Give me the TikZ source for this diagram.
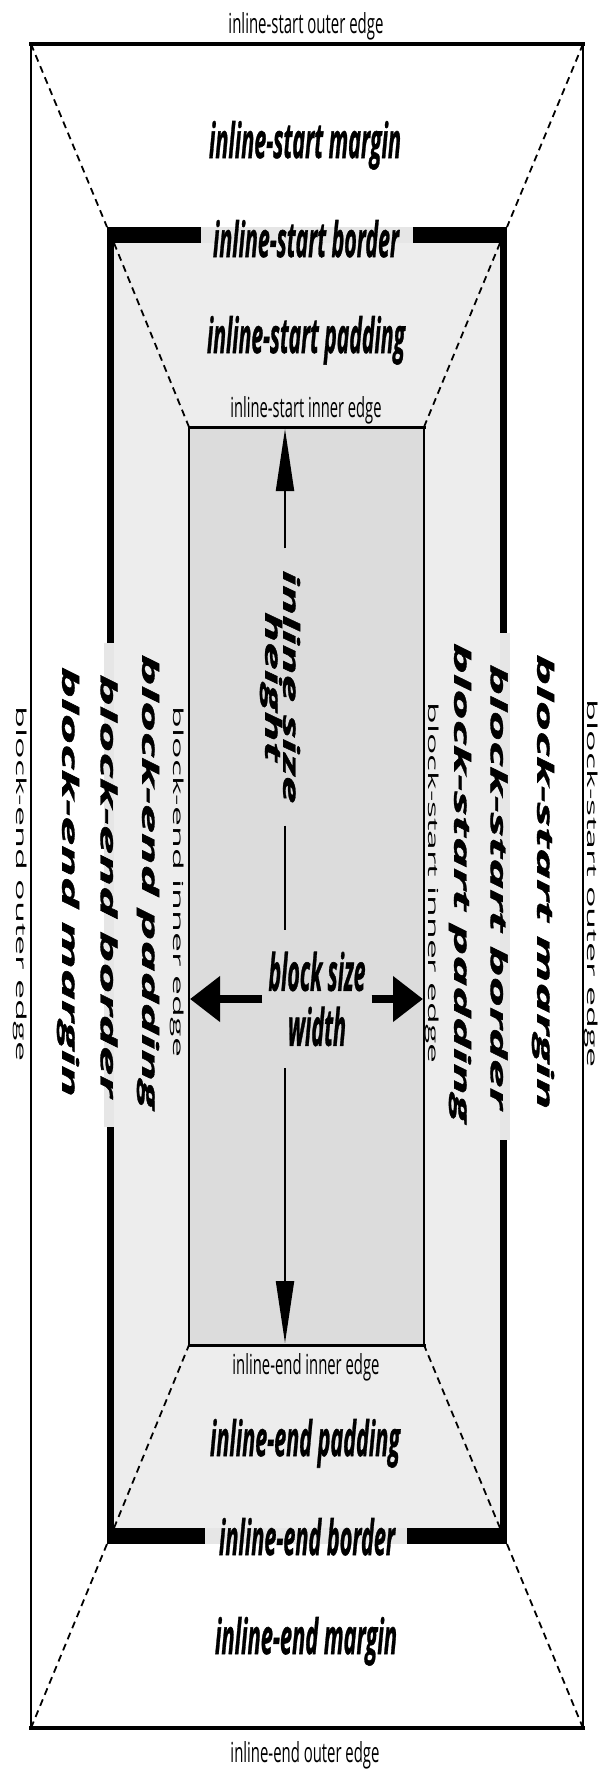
\documentclass[tikz,border=0pt]{standalone}
\usepackage{fontspec}
\setmainfont{Open Sans}[BoldItalicFeatures={FakeBold=1.2}]
\usepackage{graphicx}
\usetikzlibrary{arrows.meta}
\definecolor{padgray}{HTML}{EDEDED}
\definecolor{contgray}{HTML}{DCDCDC}
\definecolor{gapgray}{HTML}{E6E6E6}
\newcommand{\hbig}[2]{\resizebox{#1pt}{37pt}{\bfseries\itshape #2}}
\newcommand{\hsmall}[2]{\resizebox{#1pt}{21pt}{#2}}
\newcommand{\vbig}[2]{\resizebox{#1pt}{17pt}{\bfseries\itshape #2}}
\newcommand{\vsmall}[2]{\resizebox{#1pt}{10.5pt}{#2}}
\tikzset{
  lbl/.style={inner sep=0pt, anchor=base},
  vlbl/.style={inner sep=0pt, rotate=-90, anchor=center},
  dashline/.style={dash pattern=on 7pt off 5pt, line width=1.8pt},
  vshaft/.style={line width=2pt},
  vtip/.style={-{Triangle[length=62pt,width=18pt]}, line width=2pt},
  htip/.style={-{Triangle[length=30pt,width=44pt]}, line width=8pt},
  thinedge/.style={line width=2pt},
  thickedge/.style={line width=4pt, line cap=rect},
  cside/.style={line width=1.5pt},
  ctop/.style={line width=3pt, line cap=rect},
}
\begin{document}
\begin{tikzpicture}[x=1pt,y=-1pt]
\useasboundingbox (0,0) rectangle (609,1773);
\fill[white] (0,0) rectangle (609,1773);
% corners
\coordinate (oTL) at (31,44);   \coordinate (oTR) at (583,44);
\coordinate (oBL) at (31,1728); \coordinate (oBR) at (583,1728);
\coordinate (bTL) at (107,227); \coordinate (bTR) at (507,227);
\coordinate (bBL) at (107,1544);\coordinate (bBR) at (507,1544);
\coordinate (pTL) at (114,243); \coordinate (pTR) at (500,243);
\coordinate (pBL) at (114,1528);\coordinate (pBR) at (500,1528);
\coordinate (cTL) at (189,427); \coordinate (cTR) at (424,427);
\coordinate (cBL) at (189,1345);\coordinate (cBR) at (424,1345);
% fills
\fill[padgray] (bTL) rectangle (bBR);
\fill[contgray] (cTL) rectangle (cBR);
% border bars
\fill[black] (107,227) rectangle (201,243);
\fill[black] (413,227) rectangle (507,243);
\fill[black] (107,1528) rectangle (205,1544);
\fill[black] (407,1528) rectangle (507,1544);
\fill[black] (107,227) rectangle (114,643);
\fill[black] (107,1127) rectangle (114,1544);
\fill[black] (500,227) rectangle (507,633);
\fill[black] (500,1140) rectangle (507,1544);
\fill[gapgray] (201,227) rectangle (413,243);
\fill[gapgray] (205,1528) rectangle (407,1544);
\fill[gapgray] (104,643) rectangle (114,1127);
\fill[gapgray] (500,633) rectangle (510,1140);
% outer edges
\draw[thinedge] (oTL) -- (oBL);
\draw[thinedge] (oTR) -- (oBR);
\draw[thickedge] (oTL) -- (oTR);
\draw[thickedge] (oBL) -- (oBR);
% content edges
\draw[cside] (cTL) -- (cBL);
\draw[cside] (cTR) -- (cBR);
\draw[ctop] (cTL) -- (cTR);
\draw[ctop] (cBL) -- (cBR);
% dashed diagonals
\draw[dashline] (oTL) -- (bTL);
\draw[dashline] (oTR) -- (bTR);
\draw[dashline] (oBL) -- (bBL);
\draw[dashline] (oBR) -- (bBR);
\draw[dashline] (pTL) -- (cTL);
\draw[dashline] (pTR) -- (cTR);
\draw[dashline] (pBL) -- (cBL);
\draw[dashline] (pBR) -- (cBR);
% horizontal labels
\node[lbl] (isoe) at (306,33)   {\hsmall{155}{inline-start outer edge}};
\node[lbl] (ism)  at (305,158)  {\hbig{192}{inline-start margin}};
\node[lbl] (isb)  at (306,257)  {\hbig{186}{inline-start border}};
\node[lbl] (isp)  at (306,353)  {\hbig{198}{inline-start padding}};
\node[lbl] (isie) at (306,417)  {\hsmall{151}{inline-start inner edge}};
\node[lbl] (ieie) at (306,1374) {\hsmall{147}{inline-end inner edge}};
\node[lbl] (iep)  at (305,1456) {\hbig{190}{inline-end padding}};
\node[lbl] (ieb)  at (307,1555) {\hbig{176}{inline-end border}};
\node[lbl] (iem)  at (306,1654) {\hbig{182}{inline-end margin}};
\node[lbl] (ieoe) at (305,1762) {\hsmall{149}{inline-end outer edge}};
% vertical labels
\node[vlbl] (beoe) at (20,884)  {\vsmall{355}{block-end outer edge}};
\node[vlbl] (bem)  at (68,882)  {\vbig{430}{block-end margin}};
\node[vlbl] (beb)  at (109,886) {\vbig{423}{block-end border}};
\node[vlbl] (bep)  at (148,882) {\vbig{455}{block-end padding}};
\node[vlbl] (beie) at (177,882) {\vsmall{350}{block-end inner edge}};
\node[vlbl] (bsie) at (432,883) {\vsmall{361}{block-start inner edge}};
\node[vlbl] (bsp)  at (460,883) {\vbig{480}{block-start padding}};
\node[vlbl] (bsb)  at (499,887) {\vbig{445}{block-start border}};
\node[vlbl] (bsm)  at (543,882) {\vbig{455}{block-start margin}};
\node[vlbl] (bsoe) at (591,884) {\vsmall{368}{block-start outer edge}};
% size labels
\node[rotate=-90, inner xsep=22pt, inner ysep=0pt, align=center,
      font=\fontsize{10}{18}\selectfont] (ish) at (280,687)
  {\resizebox{233pt}{17pt}{\bfseries\itshape inline size}\\
   \resizebox{150pt}{17pt}{\bfseries\itshape height}};
\node[inner xsep=6pt, inner ysep=22pt, align=center,
      font=\fontsize{10}{55}\selectfont] (bsw) at (317,999)
  {\resizebox{97pt}{39pt}{\bfseries\itshape block size}\\
   \resizebox{58pt}{39pt}{\bfseries\itshape width}};
% arrows
\coordinate (tipT) at (285,429);
\coordinate (tipB) at (285,1343);
\coordinate (tipL) at (190,999);
\coordinate (tipR) at (423,999);
\draw[vtip] (tipT |- ish.west) -- (tipT);
\draw[vshaft] (tipT |- ish.east) -- (tipT |- bsw.north);
\draw[vtip] (tipT |- bsw.south) -- (tipB);
\draw[htip] (bsw.west) -- (tipL);
\draw[htip] (bsw.east) -- (tipR);
\end{tikzpicture}
\end{document}
